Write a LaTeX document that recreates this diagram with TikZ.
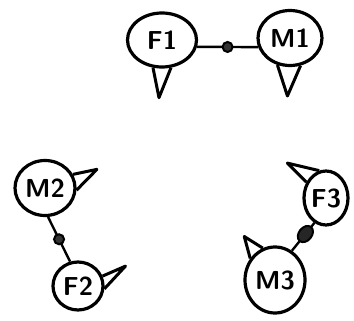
\documentclass[tikz,border=0pt]{standalone}
\usepackage{xcolor}
\usetikzlibrary{shapes.geometric, positioning}

\begin{document}
\begin{tikzpicture}[x=1pt, y=-1pt, on grid,
        person/.style={ellipse, draw, line width=3.2pt, inner sep=0pt, fill=white,
            font=\sffamily\bfseries\fontsize{26}{26}\selectfont},
        tail/.style={line width=3pt, line join=round},
        link/.style={line width=2.4pt},
        knot/.style={circle, draw, fill=black!80, line width=2pt, inner sep=0pt, minimum size=10pt},
        bigknot/.style={ellipse, draw, fill=black!85, line width=2pt, inner sep=0pt,
            minimum width=18pt, minimum height=13pt, sloped}]
            \fill[white] (0,0) rectangle (354,321);
            \useasboundingbox (0,0) rectangle (354,321);
            \node[person, minimum width=69pt, minimum height=54pt] (F1) at (162,40) {F1};
            \node[person, minimum width=64pt, minimum height=55pt, above right=2pt and 128pt of F1] (M1) {M1};
            \node[person, minimum width=60pt, minimum height=55pt] (M2) at (45,188) {M2};
            \node[person, minimum width=50pt, minimum height=48pt, below right=98pt and 33pt of M2] (F2) {F2};
            \node[person, minimum width=44pt, minimum height=54pt] (F3) at (326,198) {F3};
            \node[person, minimum width=60pt, minimum height=66pt, below left=82pt and 51pt of F3] (M3) {M3};
            \draw[tail] (F1.-108) -- ++(6,30) -- (F1.-72);
            \draw[tail] (M1.-115) -- ++(10,31) -- (M1.-69);
            \draw[tail] (M2.26) -- ++(24,-5) -- (M2.-4);
            \draw[tail] (F2.22) -- ++(23,-10) -- (F2.-6);
            \draw[tail] (F3.141) -- ++(-19,-19) -- (F3.104);
            \draw[tail] (M3.139) -- ++(-6,-22) -- (M3.111);
            \draw[link] (F1.-11) -- node[knot] {} (M1.196);
            \draw[link] (M2.-84) -- node[knot] {} (F2.108);
            \draw[link] (F3.-115) -- node[bigknot, pos=0.4] {} (M3.60);
\end{tikzpicture}
\end{document}
